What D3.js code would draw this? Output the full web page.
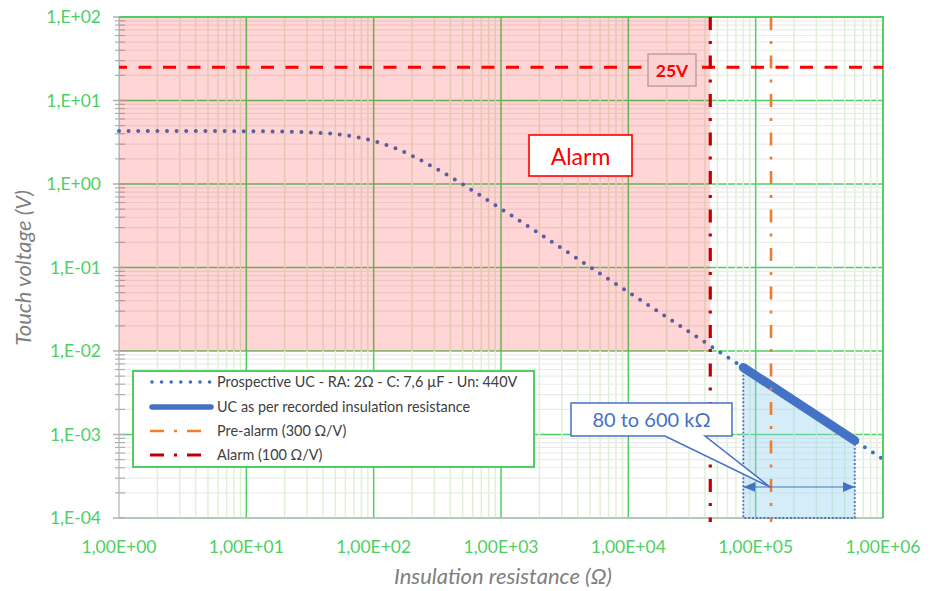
<!DOCTYPE html>
<html>
<head>
<meta charset="utf-8">
<script src="https://cdn.jsdelivr.net/npm/d3@7"></script>
<style>
  html, body { margin: 0; padding: 0; background: #fff; }
  svg { display: block; font-family: Lato, "Liberation Sans", sans-serif; }
</style>
</head>
<body>
<svg id="chart" width="930" height="591"></svg>
<script>
// ---- Data ----
const rValues  = [1, 2, 5, 10, 20, 30, 50, 70, 100, 150, 200, 300, 500, 700, 1000, 2000, 5000, 10000, 20000, 44000, 100000, 200000, 500000, 1000000];
const ucValues = [4.3, 4.3, 4.3, 4.29, 4.24, 4.17, 3.96, 3.70, 3.28, 2.66, 2.18, 1.57, 0.99, 0.716, 0.505, 0.254, 0.1016, 0.0508, 0.0254, 0.01155, 0.00508, 0.00254, 0.001016, 0.000508];
const rRecorded  = [80000, 600000];
const ucRecorded = [0.00635, 0.000847];
const alarmR = 44000;       // 100 Ω/V × 440 V
const preAlarmR = 132000;   // 300 Ω/V × 440 V
const limitV = 25;
const alarmZoneBottom = 0.01;
const xTickValues = [1, 10, 100, 1000, 10000, 100000, 1000000];
const xTickLabels = ["1,00E+00", "1,00E+01", "1,00E+02", "1,00E+03", "1,00E+04", "1,00E+05", "1,00E+06"];
const yTickValues = [0.0001, 0.001, 0.01, 0.1, 1, 10, 100];
const yTickLabels = ["1,E-04", "1,E-03", "1,E-02", "1,E-01", "1,E+00", "1,E+01", "1,E+02"];
const legendLabels = [
  "Prospective UC - RA: 2Ω - C: 7,6 µF - Un: 440V",
  "UC as per recorded insulation resistance",
  "Pre-alarm (300 Ω/V)",
  "Alarm (100 Ω/V)"
];

// ---- Layout ----
const L = 119, R = 883, T = 17, B = 518;
const svg = d3.select("#chart");
const x = d3.scaleLog().domain([1, 1e6]).range([L, R]);
const y = d3.scaleLog().domain([1e-4, 1e2]).range([B, T]);

const green = "#4fcf63";
const blue = "#4472C4";
const dotBlue = "#3d6fbf";

const minors = (lo, hi) => {
  const out = [];
  for (let e = lo; e < hi; e++) for (let k = 2; k <= 9; k++) out.push(k * Math.pow(10, e));
  return out;
};
const xMinor = minors(0, 6);
const yMinor = minors(-4, 2);

const grid = svg.append("g");
grid.selectAll(".hmin").data(yMinor).join("line")
  .attr("x1", L).attr("x2", R).attr("y1", d => y(d)).attr("y2", d => y(d))
  .attr("stroke", "#ebebeb").attr("stroke-width", 1.2);
grid.selectAll(".hmaj").data(yTickValues).join("line")
  .attr("x1", L).attr("x2", R).attr("y1", d => y(d)).attr("y2", d => y(d))
  .attr("stroke", green).attr("stroke-width", 1.5);
grid.selectAll(".vmin").data(xMinor).join("line")
  .attr("x1", d => x(d)).attr("x2", d => x(d)).attr("y1", T).attr("y2", B)
  .attr("stroke", "#e0f0d6").attr("stroke-width", 1.5);
grid.selectAll(".vmaj").data(xTickValues.slice(1)).join("line")
  .attr("x1", d => x(d)).attr("x2", d => x(d)).attr("y1", T).attr("y2", B)
  .attr("stroke", green).attr("stroke-width", 1.5);

svg.append("line").attr("x1", L).attr("x2", L).attr("y1", T).attr("y2", B)
  .attr("stroke", "#b8c8b8").attr("stroke-width", 1.5);
svg.append("line").attr("x1", L).attr("x2", R).attr("y1", B).attr("y2", B)
  .attr("stroke", "#c4c4c4").attr("stroke-width", 1.5);

svg.append("g").selectAll("line").data(yMinor).join("line")
  .attr("x1", L - 4).attr("x2", L + 6).attr("y1", d => y(d)).attr("y2", d => y(d))
  .attr("stroke", "#b0b0b0").attr("stroke-width", 1.2);
svg.append("g").selectAll("line").data(yTickValues).join("line")
  .attr("x1", L - 6).attr("x2", L + 6).attr("y1", d => y(d)).attr("y2", d => y(d))
  .attr("stroke", "#b0b0b0").attr("stroke-width", 1.5);

// blue shaded recorded area
const areaGen = d3.area().x(d => x(d[0])).y0(B).y1(d => y(d[1]));
const recPts = rRecorded.map((r, i) => [r, ucRecorded[i]]);
svg.append("path").datum(recPts).attr("d", areaGen)
  .attr("fill", "rgba(150,210,240,0.4)")
  .attr("stroke", blue).attr("stroke-width", 1.8)
  .attr("stroke-dasharray", "1.8 2");

// prospective curve (dotted)
const pts = rValues.map((r, i) => [r, ucValues[i]]);
const lineGen = d3.line().x(d => x(d[0])).y(d => y(d[1])).curve(d3.curveMonotoneX);
svg.append("path").datum(pts).attr("d", lineGen)
  .attr("fill", "none").attr("stroke", dotBlue).attr("stroke-width", 4)
  .attr("stroke-linecap", "round").attr("stroke-dasharray", "0 9.6");

// pink alarm zone overlay
svg.append("rect")
  .attr("x", x(1)).attr("y", y(100))
  .attr("width", x(alarmR) - x(1)).attr("height", y(alarmZoneBottom) - y(100))
  .attr("fill", "rgba(255,0,0,0.165)");

// recorded thick line
svg.append("path").datum(recPts).attr("d", d3.line().x(d => x(d[0])).y(d => y(d[1])))
  .attr("fill", "none").attr("stroke", blue).attr("stroke-width", 9)
  .attr("stroke-linecap", "round");

svg.append("path").attr("d", `M${L},${T}H${R}V${B}`)
  .attr("fill", "none").attr("stroke", green).attr("stroke-width", 1.8);

// 25V limit line
svg.append("line").attr("x1", L).attr("x2", R).attr("y1", y(limitV)).attr("y2", y(limitV))
  .attr("stroke", "#ff0000").attr("stroke-width", 3)
  .attr("stroke-dasharray", "13 11.5").attr("stroke-dashoffset", 5);

const dashDot = "13 11 3 11.5";
svg.append("line").attr("x1", x(preAlarmR)).attr("x2", x(preAlarmR)).attr("y1", T).attr("y2", B + 4)
  .attr("stroke", "#ED7D31").attr("stroke-width", 2.6).attr("stroke-dasharray", dashDot);
svg.append("line").attr("x1", x(alarmR)).attr("x2", x(alarmR)).attr("y1", T).attr("y2", B + 4)
  .attr("stroke", "#C00000").attr("stroke-width", 3.2).attr("stroke-dasharray", dashDot);

// double arrow
const arrowY = 487;
svg.append("defs").html(`
  <marker id="ah" viewBox="0 0 12 10" refX="12" refY="5" markerWidth="12" markerHeight="10" markerUnits="userSpaceOnUse" orient="auto-start-reverse">
    <path d="M0,0 L12,5 L0,10 z" fill="${blue}"/>
  </marker>`);
svg.append("line").attr("x1", x(rRecorded[0])).attr("x2", x(rRecorded[1]))
  .attr("y1", arrowY).attr("y2", arrowY)
  .attr("stroke", blue).attr("stroke-width", 1.2)
  .attr("marker-start", "url(#ah)").attr("marker-end", "url(#ah)");

// callout
const cx0 = 571, cy0 = 403, cw = 161, ch = 33;
const tipX = 770, tipY = arrowY;
svg.append("path")
  .attr("d", `M${cx0},${cy0} H${cx0 + cw} V${cy0 + ch} H705 L${tipX},${tipY} L665,${cy0 + ch} H${cx0} Z`)
  .attr("fill", "#fff").attr("stroke", blue).attr("stroke-width", 1.5);
svg.append("text").attr("x", cx0 + cw / 2).attr("y", cy0 + 24)
  .attr("text-anchor", "middle").attr("font-size", 20).attr("fill", blue)
  .text("80 to 600 kΩ");

// Alarm label
svg.append("rect").attr("x", 529).attr("y", 135).attr("width", 103).attr("height", 41)
  .attr("fill", "#fff").attr("stroke", "#ff0000").attr("stroke-width", 1.6);
svg.append("text").attr("x", 580.5).attr("y", 164.5).attr("text-anchor", "middle")
  .attr("font-size", 23).attr("fill", "#ff0000").text("Alarm");

// 25V label
svg.append("rect").attr("x", 648).attr("y", 54).attr("width", 48).attr("height", 32)
  .attr("fill", "#f9d2d2").attr("stroke", "#c49c9c").attr("stroke-width", 1.5);
svg.append("text").attr("x", 672).attr("y", 77).attr("text-anchor", "middle")
  .attr("font-size", 17.5).attr("font-weight", "bold").attr("fill", "#ff0000").text("25V");

// tick labels
svg.append("g").selectAll("text").data(yTickValues).join("text")
  .attr("x", 101).attr("y", d => y(d) + 6).attr("text-anchor", "end")
  .attr("font-size", 17.5).attr("fill", green)
  .text((d, i) => yTickLabels[i]);
svg.append("g").selectAll("text").data(xTickValues).join("text")
  .attr("x", d => x(d)).attr("y", 553).attr("text-anchor", "middle")
  .attr("font-size", 17.5).attr("fill", green)
  .text((d, i) => xTickLabels[i]);

// axis titles
svg.append("text").attr("x", (L + R) / 2 + 2).attr("y", 584).attr("text-anchor", "middle")
  .attr("font-size", 22).attr("font-style", "italic").attr("fill", "#7f7f7f")
  .text("Insulation resistance (Ω)");
svg.append("text").attr("transform", "translate(31,268) rotate(-90)").attr("text-anchor", "middle")
  .attr("font-size", 22).attr("font-style", "italic").attr("fill", "#7f7f7f")
  .text("Touch voltage (V)");

// legend
const lg = svg.append("g");
lg.append("rect").attr("x", 133).attr("y", 371).attr("width", 401).attr("height", 96)
  .attr("fill", "#fff").attr("stroke", green).attr("stroke-width", 2);
const rowsY = [382, 407, 431, 455];
lg.append("line").attr("x1", 152).attr("x2", 211).attr("y1", rowsY[0]).attr("y2", rowsY[0])
  .attr("stroke", dotBlue).attr("stroke-width", 3.6).attr("stroke-linecap", "round").attr("stroke-dasharray", "0 9.6");
lg.append("line").attr("x1", 152).attr("x2", 211).attr("y1", rowsY[1]).attr("y2", rowsY[1])
  .attr("stroke", blue).attr("stroke-width", 5.5).attr("stroke-linecap", "round");
lg.append("line").attr("x1", 150).attr("x2", 203).attr("y1", rowsY[2]).attr("y2", rowsY[2])
  .attr("stroke", "#ED7D31").attr("stroke-width", 2.6).attr("stroke-dasharray", "14 10 3 10");
lg.append("line").attr("x1", 150).attr("x2", 203).attr("y1", rowsY[3]).attr("y2", rowsY[3])
  .attr("stroke", "#C00000").attr("stroke-width", 3).attr("stroke-dasharray", "14 10 3 10");
lg.selectAll("text.lt").data(legendLabels).join("text")
  .attr("x", 217).attr("y", (d, i) => rowsY[i] + 5)
  .attr("font-size", 14.4).attr("fill", "#404040")
  .text(d => d);
</script>
</body>
</html>
